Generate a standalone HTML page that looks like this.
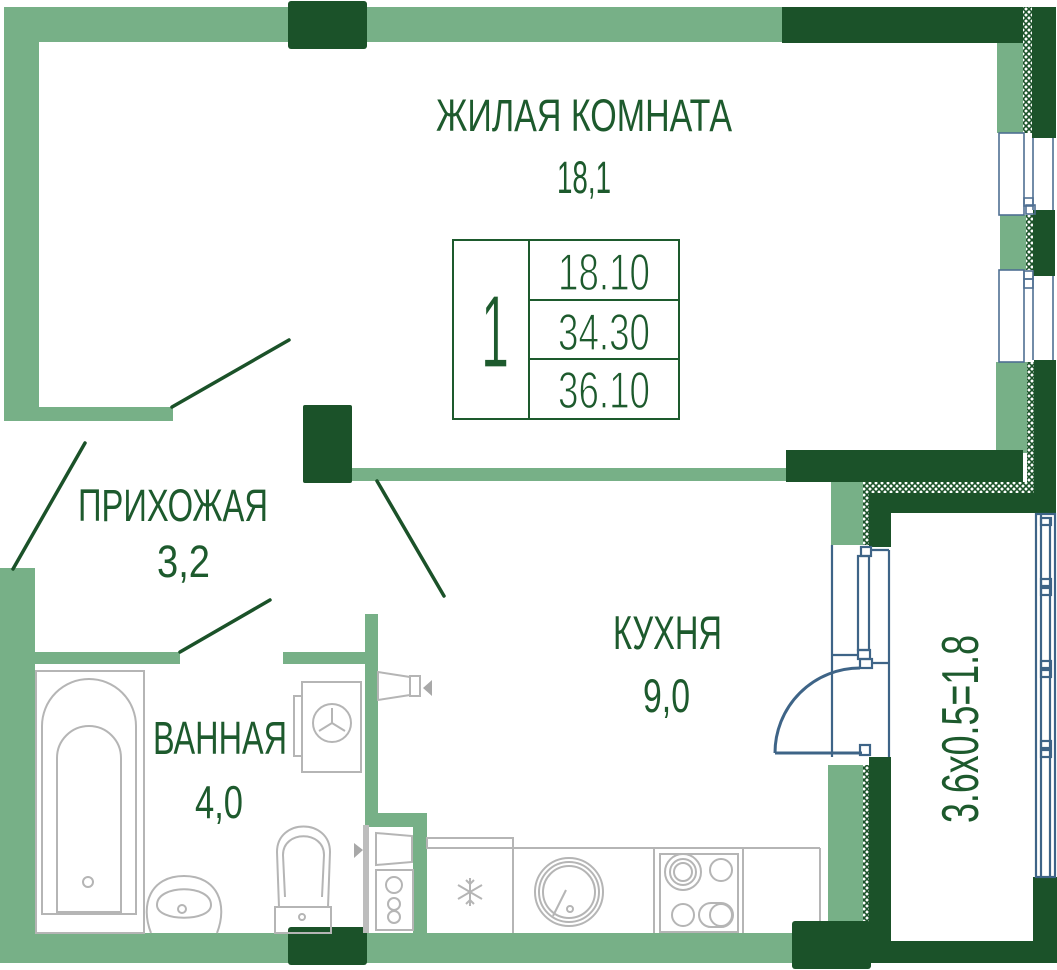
<!DOCTYPE html>
<html><head><meta charset="utf-8"><style>
html,body{margin:0;padding:0;background:#fff;width:1057px;height:970px;overflow:hidden}
svg{display:block}
text{font-family:"Liberation Sans","DejaVu Sans",sans-serif;fill:#1d5a2d}
</style></head><body>
<svg width="1057" height="970" viewBox="0 0 1057 970" xmlns="http://www.w3.org/2000/svg">
<defs>
<pattern id="h" width="6" height="6" patternUnits="userSpaceOnUse">
<rect width="6" height="6" fill="#fff"/><path d="M0 0 L6 6 M6 0 L0 6" stroke="#1b5229" stroke-width="1.6"/>
</pattern>
</defs>
<!-- light green walls -->
<g fill="#77b087">
<rect x="4" y="7" width="779" height="35"/>
<rect x="4" y="7" width="35" height="414"/>
<rect x="4" y="407" width="169" height="14"/>
<rect x="997" y="43" width="26" height="90"/>
<rect x="1000" y="215" width="26" height="55"/>
<rect x="996" y="362" width="31" height="91"/>
<rect x="352" y="468" width="434" height="13"/>
<rect x="831" y="482" width="32" height="63"/>
<rect x="0" y="568" width="35" height="395"/>
<rect x="0" y="933" width="795" height="30"/>
<rect x="35" y="652" width="145" height="12"/>
<rect x="283" y="652" width="82" height="12"/>
<rect x="365" y="614" width="13" height="213"/>
<rect x="365" y="813" width="62" height="14"/>
<rect x="413" y="813" width="14" height="120"/>
<rect x="828" y="765" width="36" height="156"/>
</g>
<!-- hatch -->
<g fill="url(#h)">
<rect x="1023" y="7" width="9" height="126"/>
<rect x="1026" y="215" width="7" height="55"/>
<rect x="1027" y="362" width="7" height="131"/>
<rect x="863" y="482" width="171" height="11"/>
<rect x="863" y="482" width="6" height="63"/>
<rect x="863" y="765" width="6" height="156"/>
</g>
<!-- dark walls -->
<g fill="#1b5229">
<rect x="288" y="1" width="79" height="48" rx="3"/>
<rect x="782" y="7" width="241" height="36"/>
<rect x="1032" y="7" width="24" height="131"/>
<rect x="1033" y="210" width="22" height="66"/>
<rect x="1034" y="360" width="22" height="153"/>
<rect x="786" y="450" width="237" height="32"/>
<rect x="869" y="493" width="187" height="20"/>
<rect x="869" y="493" width="22" height="54"/>
<rect x="303" y="405" width="49" height="78" rx="2"/>
<rect x="288" y="927" width="79" height="38" rx="3"/>
<rect x="869" y="757" width="22" height="206"/>
<rect x="891" y="941" width="166" height="22"/>
<rect x="1033" y="877" width="24" height="86"/>
<rect x="792" y="921" width="79" height="48" rx="3"/>
</g>
<!-- door leaves -->
<g stroke="#1b5229" stroke-width="3.5" stroke-linecap="round" fill="none">
<line x1="172" y1="407" x2="289" y2="340"/>
<line x1="85" y1="443" x2="13" y2="569"/>
<line x1="377" y1="481" x2="444" y2="596"/>
<line x1="180" y1="652" x2="270" y2="600"/>
</g>
<!-- windows -->
<g stroke="#4f6f92" stroke-width="1.6" fill="none">
<rect x="999" y="133" width="25" height="82"/>
<line x1="1033" y1="138" x2="1033" y2="210"/>
<line x1="1053" y1="138" x2="1053" y2="210"/>
<rect x="1024" y="198" width="9" height="8"/>
<rect x="1026" y="205" width="9" height="9"/>
<rect x="999" y="270" width="25" height="92"/>
<line x1="1033" y1="276" x2="1033" y2="360"/>
<line x1="1053" y1="276" x2="1053" y2="360"/>
<rect x="1024" y="271" width="9" height="8"/>
<rect x="1024" y="279" width="9" height="9"/>
</g>
<g stroke="#3e6487" stroke-width="2.2" fill="none">
<line x1="832" y1="545" x2="832" y2="757"/>
<line x1="889" y1="550" x2="889" y2="757"/>
<line x1="870" y1="550" x2="889" y2="550"/>
<rect x="858" y="556" width="11" height="94"/>
<rect x="861" y="547" width="10" height="9"/>
<rect x="858" y="650" width="12" height="9"/>
<rect x="860" y="659" width="12" height="9"/>
<line x1="832" y1="655" x2="858" y2="655"/>
<line x1="872" y1="663" x2="889" y2="663"/>
<rect x="860" y="745" width="10" height="10"/>
<path d="M775 753 A85 85 0 0 1 860 668" stroke-width="3"/>
<line x1="775" y1="753" x2="862" y2="753" stroke-width="3"/>
<!-- balcony window -->
<rect x="1036" y="514" width="19" height="363"/>
<line x1="1041" y1="514" x2="1041" y2="877"/>
<line x1="1050" y1="518" x2="1050" y2="877"/>
<rect x="1041" y="518" width="10" height="7"/>
<rect x="1041" y="579" width="10" height="7"/>
<rect x="1041" y="588" width="10" height="7"/>
<rect x="1041" y="661" width="10" height="7"/>
<rect x="1041" y="670" width="10" height="7"/>
<rect x="1041" y="741" width="10" height="7"/>
<rect x="1041" y="750" width="10" height="7"/>
</g>
<!-- fixtures -->
<g stroke="#b5b5b5" stroke-width="2" fill="none">
<rect x="36" y="671" width="108" height="262"/>
<path d="M42 914 L42 726 A47 47 0 0 1 136 726 L136 914 Z"/>
<path d="M57 912 L57 758 A32 32 0 0 1 121 758 L121 912 Z"/>
<circle cx="88" cy="882" r="5"/>
<path d="M151 933 C140 905 150 876 184 876 C218 876 228 905 217 933"/>
<path d="M157 905 C157 884 211 884 211 905 C211 922 157 922 157 905Z"/>
<circle cx="182" cy="909" r="4"/>
<path d="M279 907 L277 852 C277 818 330 818 330 852 L328 907"/>
<path d="M285 897 L283 855 C283 830 324 830 324 855 L322 897"/>
<rect x="275" y="907" width="56" height="26"/>
<circle cx="302" cy="917" r="3"/>
<rect x="302" y="682" width="59" height="90"/>
<rect x="294" y="696" width="8" height="60"/>
<circle cx="332" cy="723" r="19"/>
<path d="M332 723 L332 708 M332 723 L319 731 M332 723 L345 731"/>
<polygon points="378,672 410,677 410,695 378,700"/>
<rect x="410" y="676" width="10" height="20"/>
<polygon points="376,833 412,836 412,862 376,865"/>
<rect x="376" y="870" width="37" height="60"/>
<circle cx="394" cy="885" r="8"/>
<circle cx="394" cy="904" r="6"/>
<circle cx="394" cy="917" r="6"/>
<line x1="427" y1="848" x2="820" y2="848"/>
<rect x="427" y="838" width="86" height="10"/>
<line x1="513" y1="848" x2="513" y2="933"/>
<line x1="654" y1="848" x2="654" y2="933"/>
<line x1="743" y1="848" x2="743" y2="933"/>
<line x1="820" y1="848" x2="820" y2="921"/>
<rect x="660" y="854" width="78" height="78"/>
<circle cx="683" cy="872" r="18"/>
<circle cx="683" cy="872" r="13"/>
<circle cx="683" cy="872" r="9"/>
<circle cx="721" cy="870" r="11"/>
<circle cx="683" cy="915" r="11"/>
<rect x="699" y="903" width="34" height="24" rx="12"/>
<circle cx="721" cy="915" r="11"/>
<circle cx="569" cy="892" r="34"/>
<circle cx="569" cy="892" r="30"/>
<circle cx="569" cy="892" r="26"/>
<line x1="566" y1="890" x2="553" y2="916"/>
<circle cx="570" cy="909" r="3"/>
<path d="M470 878 L470 906 M458 885 L482 899 M458 899 L482 885 M466 880 L470 884 L474 880 M466 904 L470 900 L474 904"/>
</g>
<rect x="363" y="825" width="6" height="108" fill="#bdbdbd"/>
<polygon points="354,843 354,858 363,850" fill="#a8a8a8"/>
<polygon points="432,680 432,696 423,688" fill="#a8a8a8"/>
<!-- area table -->
<g stroke="#1d5a2d" stroke-width="2" fill="none">
<rect x="453" y="240" width="226" height="179"/>
<line x1="529" y1="240" x2="529" y2="419"/>
<line x1="529" y1="300" x2="679" y2="300"/>
<line x1="529" y1="359" x2="679" y2="359"/>
</g>
<!-- labels -->
<text x="436" y="131" font-size="45" textLength="296" lengthAdjust="spacingAndGlyphs">ЖИЛАЯ КОМНАТА</text>
<text x="557" y="193" font-size="45" textLength="54" lengthAdjust="spacingAndGlyphs">18,1</text>
<text x="78" y="521" font-size="45" textLength="190" lengthAdjust="spacingAndGlyphs">ПРИХОЖАЯ</text>
<text x="157" y="577" font-size="45" textLength="53" lengthAdjust="spacingAndGlyphs">3,2</text>
<text x="153" y="754" font-size="46" textLength="134" lengthAdjust="spacingAndGlyphs">ВАННАЯ</text>
<text x="195" y="818" font-size="46" textLength="48" lengthAdjust="spacingAndGlyphs">4,0</text>
<text x="613" y="649" font-size="47" textLength="109" lengthAdjust="spacingAndGlyphs">КУХНЯ</text>
<text x="643" y="712" font-size="47" textLength="47" lengthAdjust="spacingAndGlyphs">9,0</text>
<g stroke="#fff" stroke-width="1.2">
<text x="558" y="290" font-size="52" textLength="92" lengthAdjust="spacingAndGlyphs">18.10</text>
<text x="558" y="350" font-size="52" textLength="92" lengthAdjust="spacingAndGlyphs">34.30</text>
<text x="558" y="408" font-size="52" textLength="92" lengthAdjust="spacingAndGlyphs">36.10</text>
<text x="481" y="367" font-size="103" textLength="28" lengthAdjust="spacingAndGlyphs">1</text>
</g>
<text transform="translate(978,823) rotate(-90)" x="0" y="0" font-size="52" textLength="188" lengthAdjust="spacingAndGlyphs">3.6x0.5=1.8</text>
</svg>
</body></html>
